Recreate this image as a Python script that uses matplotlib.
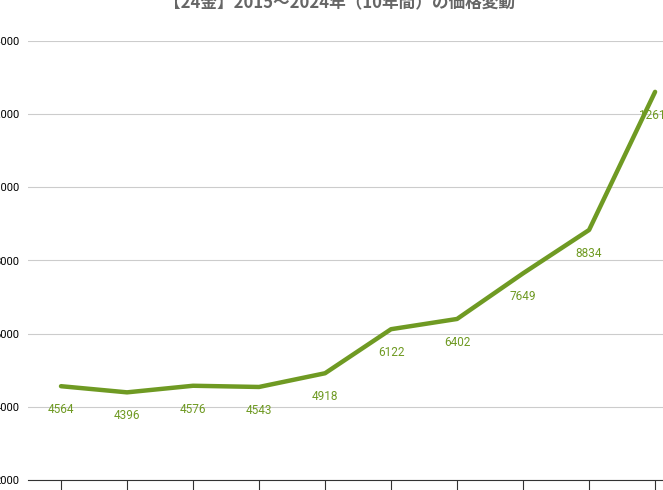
import matplotlib
matplotlib.use("Agg")
import matplotlib.pyplot as plt

plt.rcParams['font.family'] = ['Noto Sans CJK JP', 'DejaVu Sans']

years = ["2015","2016","2017","2018","2019","2020","2021","2022","2023","2024"]
prices = [4564, 4396, 4576, 4543, 4918, 6122, 6402, 7649, 8834, 12610]
yticks = [2000, 4000, 6000, 8000, 10000, 12000, 14000]

W, H = 663, 490
fig = plt.figure(figsize=(W/100, H/100), dpi=100)
ax = fig.add_axes([28/W, (H-480)/H, (663-28)/W, (480-41)/H])
x = list(range(len(years)))
ax.plot(x, prices, color="#6f9a23", lw=3.2, solid_capstyle="round", zorder=3)
for xi, v in zip(x, prices):
    ax.annotate(str(v), (xi, v), xytext=(0, -17), textcoords="offset points",
                ha="center", va="center", fontsize=8.5, color="#6f9a23",
                family="Roboto")
ax.set_xlim(-0.5, 9.12)
ax.set_ylim(2000, 14000)
ax.set_yticks(yticks)
ax.set_yticklabels([str(t) for t in yticks], fontsize=8, family="Roboto")
ax.set_xticks(x)
ax.set_xticklabels([])
ax.tick_params(axis="x", length=8, direction="out", color="#333333")
ax.tick_params(axis="y", length=0, pad=6)
ax.grid(axis="y", color="#cccccc", lw=0.8)
for s in ["top", "right", "left"]:
    ax.spines[s].set_visible(False)
ax.spines["bottom"].set_color("#333333")
fig.text(340/W, 1 - 3/H, "【24金】2015～2024年（10年間）の価格変動", ha="center",
         va="center", fontsize=12, fontweight="bold", color="#666666")
fig.savefig("out.png", dpi=100)
